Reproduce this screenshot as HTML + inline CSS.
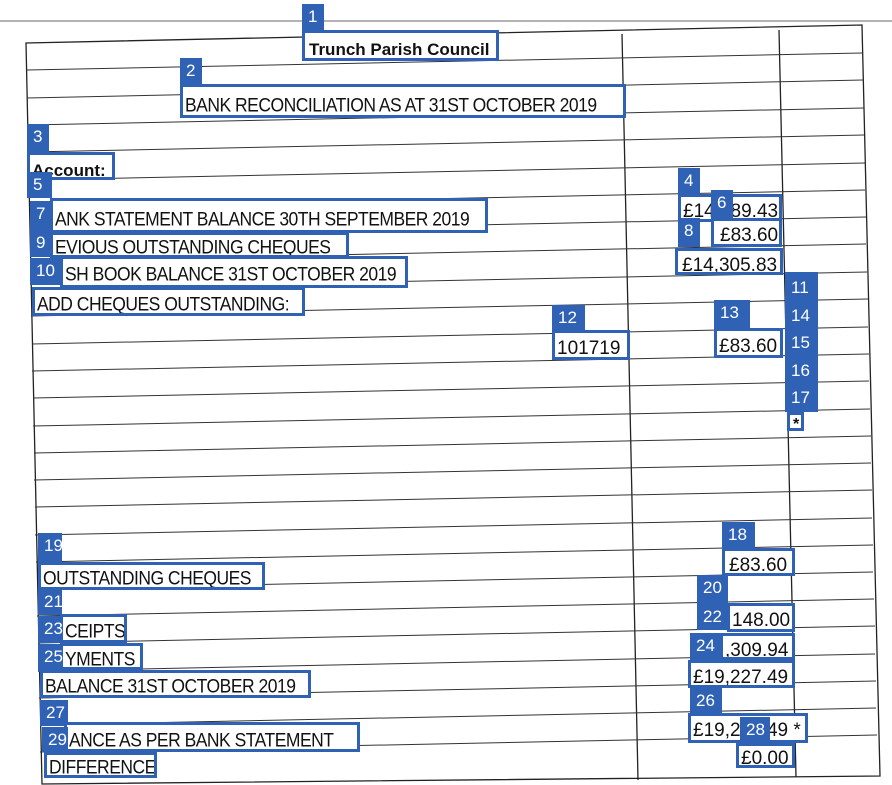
<!DOCTYPE html>
<html><head><meta charset="utf-8"><style>
body{margin:0;width:892px;height:785px;background:#fff;position:relative;overflow:hidden;font-family:"Liberation Sans",sans-serif}
.b{position:absolute;border:3px solid #2f62b5;box-sizing:border-box;background:#fff;color:#111;font-size:18px;line-height:1;white-space:nowrap;overflow:hidden;padding:5px 0 0 2px}
.l{position:absolute;background:#2f62b5;color:#fff;font-size:17px;box-sizing:border-box;padding:4px 0 0 6px;line-height:1}
.t{font-size:17.5px !important;letter-spacing:-0.5px;transform-origin:left}
.t span{display:inline-block;transform:scaleY(1.12);transform-origin:top}
</style></head><body>
<svg width="892" height="785" style="position:absolute;left:0;top:0">
<line x1="0" y1="21" x2="892" y2="21" stroke="#666" stroke-width="1"/>
<g stroke="#222" stroke-width="1.3" fill="none">
<polygon points="26,43 862,25 880,776 42,784"/>
<line x1="622" y1="34" x2="638" y2="780"/>
<line x1="779" y1="30" x2="796" y2="777"/>
</g>
<g stroke="#333" stroke-width="1">
<line x1="27" y1="70" x2="862" y2="53"/>
<line x1="27" y1="98" x2="863" y2="80"/>
<line x1="28" y1="125" x2="864" y2="108"/>
<line x1="28" y1="152" x2="864" y2="135"/>
<line x1="29" y1="180" x2="865" y2="163"/>
<line x1="29" y1="207" x2="865" y2="190"/>
<line x1="30" y1="234" x2="866" y2="217"/>
<line x1="30" y1="261" x2="866" y2="244"/>
<line x1="31" y1="289" x2="867" y2="272"/>
<line x1="31" y1="316" x2="868" y2="299"/>
<line x1="32" y1="344" x2="868" y2="327"/>
<line x1="32" y1="371" x2="869" y2="354"/>
<line x1="33" y1="398" x2="869" y2="381"/>
<line x1="33" y1="426" x2="870" y2="409"/>
<line x1="34" y1="453" x2="871" y2="436"/>
<line x1="34" y1="480" x2="871" y2="463"/>
<line x1="35" y1="507" x2="872" y2="490"/>
<line x1="35" y1="535" x2="872" y2="518"/>
<line x1="36" y1="562" x2="873" y2="545"/>
<line x1="37" y1="589" x2="873" y2="572"/>
<line x1="37" y1="616" x2="874" y2="599"/>
<line x1="38" y1="643" x2="875" y2="626"/>
<line x1="38" y1="671" x2="875" y2="654"/>
<line x1="39" y1="698" x2="876" y2="681"/>
<line x1="40" y1="725" x2="876" y2="708"/>
<line x1="40" y1="752" x2="877" y2="735"/>
</g>
</svg>

<div class="b" style="left:302px;top:30px;width:197px;height:31px;font-weight:bold;font-size:17px;padding-top:8px;padding-left:4px">Trunch Parish Council</div>
<div class="l" style="left:302px;top:4px;width:22px;height:27px">1</div>
<div class="b t" style="left:180px;top:84px;width:446px;height:34px;padding-top:9px"><span>BANK RECONCILIATION AS AT 31ST OCTOBER 2019</span></div>
<div class="l" style="left:180px;top:58px;width:22px;height:27px">2</div>
<div class="b" style="left:27px;top:152px;width:88px;height:28px;font-weight:bold;font-size:17px;padding-top:7px">Account:</div>
<div class="l" style="left:27px;top:124px;width:22px;height:28px">3</div>

<div class="b t" style="left:50px;top:198px;width:438px;height:35px;padding-top:9px"><span>ANK STATEMENT BALANCE 30TH SEPTEMBER 2019</span></div>
<div class="b t" style="left:50px;top:232px;width:299px;height:26px;padding-top:3px"><span>EVIOUS OUTSTANDING CHEQUES</span></div>
<div class="b t" style="left:60px;top:256px;width:348px;height:32px;padding-top:6px"><span>SH BOOK BALANCE 31ST OCTOBER 2019</span></div>
<div class="b t" style="left:32px;top:287px;width:273px;height:29px;padding-top:5px"><span>ADD CHEQUES OUTSTANDING:</span></div>
<div class="l" style="left:27px;top:172px;width:25px;height:26px">5</div>
<div class="l" style="left:30px;top:201px;width:22px;height:29px">7</div>
<div class="l" style="left:30px;top:230px;width:22px;height:27px">9</div>
<div class="l" style="left:30px;top:258px;width:32px;height:27px">10</div>

<div class="b" style="left:678px;top:194px;width:104px;height:28px;font-size:19px">£14,389.43</div>
<div class="l" style="left:678px;top:168px;width:22px;height:26px">4</div>
<div class="l" style="left:711px;top:190px;width:22px;height:28px">6</div>
<div class="b" style="left:711px;top:218px;width:71px;height:29px;font-size:19px;padding-left:6px">£83.60</div>
<div class="l" style="left:678px;top:218px;width:22px;height:29px">8</div>
<div class="b" style="left:675px;top:248px;width:108px;height:27px;font-size:19px;padding-left:4px">£14,305.83</div>

<div class="l" style="left:785px;top:272px;width:33px;height:140px;line-height:27.5px;padding-top:2px">11<br>14<br>15<br>16<br>17</div>
<div class="b" style="left:787px;top:412px;width:17px;height:19px;font-size:16px;padding:2px 0 0 3px;font-weight:bold">*</div>

<div class="b" style="left:552px;top:330px;width:78px;height:30px;font-size:19px;padding-top:6px">101719</div>
<div class="l" style="left:552px;top:305px;width:33px;height:27px">12</div>
<div class="b" style="left:714px;top:328px;width:69px;height:30px;font-size:19px;padding-top:6px">£83.60</div>
<div class="l" style="left:714px;top:300px;width:36px;height:28px">13</div>

<div class="b" style="left:722px;top:548px;width:73px;height:28px;font-size:19px;padding-left:4px">£83.60</div>
<div class="l" style="left:722px;top:522px;width:33px;height:26px">18</div>
<div class="b t" style="left:38px;top:562px;width:227px;height:28px;padding-top:4px"><span>OUTSTANDING CHEQUES</span></div>
<div class="l" style="left:38px;top:533px;width:24px;height:29px">19</div>
<div class="l" style="left:697px;top:575px;width:31px;height:29px">20</div>
<div class="l" style="left:38px;top:589px;width:24px;height:26px">21</div>
<div class="b" style="left:727px;top:603px;width:68px;height:29px;font-size:19px">148.00</div>
<div class="l" style="left:697px;top:604px;width:30px;height:26px">22</div>
<div class="b t" style="left:60px;top:614px;width:67px;height:29px;padding-top:5px"><span>CEIPTS</span></div>
<div class="l" style="left:38px;top:616px;width:24px;height:27px">23</div>
<div class="b" style="left:720px;top:633px;width:75px;height:27px;font-size:19px">,309.94</div>
<div class="l" style="left:690px;top:633px;width:32px;height:27px">24</div>
<div class="b t" style="left:60px;top:643px;width:83px;height:27px;padding-top:4px"><span>YMENTS</span></div>
<div class="l" style="left:38px;top:644px;width:24px;height:28px">25</div>
<div class="b t" style="left:40px;top:670px;width:271px;height:28px;padding-top:4px"><span>BALANCE 31ST OCTOBER 2019</span></div>
<div class="b" style="left:688px;top:660px;width:107px;height:28px;font-size:19px">£19,227.49</div>
<div class="l" style="left:690px;top:688px;width:32px;height:25px">26</div>
<div class="b" style="left:688px;top:713px;width:120px;height:30px;font-size:19px">£19,227.49 *</div>
<div class="l" style="left:740px;top:717px;width:30px;height:26px">28</div>
<div class="l" style="left:40px;top:700px;width:28px;height:26px">27</div>
<div class="b t" style="left:64px;top:722px;width:296px;height:30px;padding-top:6px"><span>ANCE AS PER BANK STATEMENT</span></div>
<div class="l" style="left:42px;top:727px;width:26px;height:25px">29</div>
<div class="b t" style="left:44px;top:752px;width:113px;height:26px;padding-top:3px"><span>DIFFERENCE</span></div>
<div class="b" style="left:736px;top:743px;width:59px;height:25px;font-size:19px;padding-top:3px">£0.00</div>
</body></html>
